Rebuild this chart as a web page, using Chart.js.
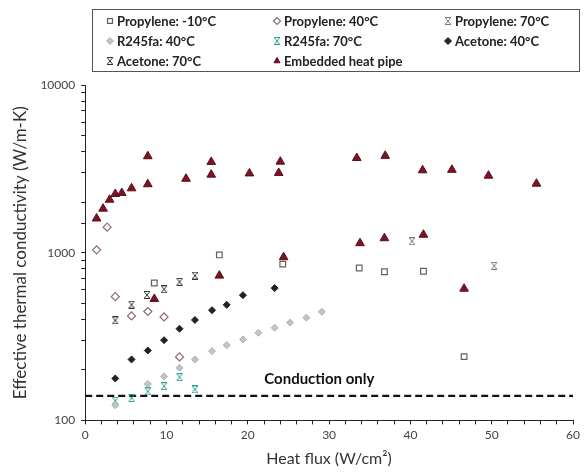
<!DOCTYPE html>
<html>
<head>
<meta charset="utf-8">
<script src="https://cdn.jsdelivr.net/npm/chart.js@4.4.1/dist/chart.umd.min.js"></script>
<style>
  body { margin: 0; background: #fff; }
  #wrap { width: 584px; height: 472px; }
</style>
</head>
<body>
<div id="wrap"><canvas id="kChart"></canvas></div>
<script>
// heat flux (W/cm2) and effective conductivity (W/m-K)
const propM10X = [8.5, 16.5, 24.3, 33.7, 36.8, 41.6, 46.6];
const propM10Y = [660, 970, 855, 810, 770, 775, 240];

const prop40X = [1.4, 2.7, 3.7, 5.7, 7.7, 9.7, 11.6];
const prop40Y = [1040, 1420, 547, 420, 446, 414, 239];

const prop70X = [40.2, 50.3];
const prop70Y = [1170, 835];

const r40X = [3.7, 7.7, 9.7, 11.6, 13.5, 15.6, 17.4, 19.4, 21.3, 23.3, 25.2, 27.2, 29.1];
const r40Y = [123, 165, 183, 206, 231, 259, 281, 304, 333, 357, 383, 410, 444];

const r70X = [3.7, 5.7, 7.7, 9.7, 11.6, 13.5];
const r70Y = [131, 136, 149, 160, 181, 153];

const ace40X = [3.7, 5.7, 7.7, 9.7, 11.6, 13.5, 15.6, 17.4, 19.4, 23.3];
const ace40Y = [178, 231, 261, 301, 352, 397, 454, 489, 558, 615];

const ace70X = [3.7, 5.7, 7.6, 9.7, 11.6, 13.5];
const ace70Y = [395, 490, 560, 605, 670, 730];

const pipeX = [1.4, 2.2, 3.0, 3.7, 4.5, 5.7, 7.7, 7.7, 8.5, 12.4, 15.5, 15.5, 16.5, 20.2, 23.8, 24.0, 24.4,
               33.4, 33.8, 36.9, 36.8, 41.5, 41.6, 45.1, 46.6, 49.6, 55.5];
const pipeY = [1600, 1830, 2070, 2240, 2270, 2420, 2560, 3760, 530, 2760, 2920, 3480, 730, 2970, 2990, 3490, 940,
               3670, 1140, 3780, 1220, 3100, 1280, 3120, 610, 2880, 2580];

const conductionX = [0, 60];
const conductionY = [140, 140];

const xTicks = [0, 10, 20, 30, 40, 50, 60];
const yTicks = [100, 1000, 10000];

function pts(xs, ys) {
    return xs.map((x, i) => ({ x: x, y: ys[i] }));
}

// Excel-like "x" marker with bars on top and bottom
function hourglass(color) {
    const c = document.createElement('canvas');
    c.width = 8; c.height = 8;
    const g = c.getContext('2d');
    g.strokeStyle = color;
    g.lineWidth = 1;
    g.beginPath();
    g.moveTo(1, 0.5); g.lineTo(7, 0.5);
    g.moveTo(1, 7.5); g.lineTo(7, 7.5);
    g.moveTo(1.5, 1); g.lineTo(6.5, 7);
    g.moveTo(6.5, 1); g.lineTo(1.5, 7);
    g.stroke();
    return c;
}

const FONT = 'Lato, "Open Sans", sans-serif';

const legendBox = {
    id: 'legendBox',
    afterDraw(chart) {
        const ctx = chart.ctx;
        const sets = chart.data.datasets.filter(d => !d.noLegend);
        const cols = [110, 277, 448];
        const rows = [21, 41, 61];
        ctx.save();
        ctx.strokeStyle = '#555';
        ctx.lineWidth = 1;
        ctx.strokeRect(92.5, 9.5, 487, 62);
        ctx.font = 'bold 13px ' + FONT;
        ctx.textBaseline = 'middle';
        sets.forEach((d, i) => {
            const x = cols[i % 3], y = rows[Math.floor(i / 3)];
            ctx.fillStyle = d.backgroundColor;
            ctx.strokeStyle = d.borderColor;
            ctx.lineWidth = d.borderWidth || 1;
            Chart.helpers.drawPoint(ctx, {
                pointStyle: d.pointStyle,
                radius: Math.min(d.pointRadius, 3.5),
                borderWidth: d.borderWidth || 1
            }, x, y);
            ctx.fillStyle = '#222';
            ctx.fillText(d.label, x + 7, y + 1);
        });
        ctx.restore();
    }
};

const conductionLabel = {
    id: 'conductionLabel',
    afterDatasetsDraw(chart) {
        const ctx = chart.ctx;
        const xs = chart.scales.x, ys = chart.scales.y;
        ctx.save();
        ctx.font = 'bold 15px ' + FONT;
        ctx.fillStyle = '#111';
        ctx.textAlign = 'center';
        ctx.textBaseline = 'middle';
        ctx.fillText('Conduction only', xs.getPixelForValue(28.8), ys.getPixelForValue(conductionY[0]) - 17);
        ctx.restore();
    }
};

new Chart(document.getElementById('kChart'), {
    type: 'scatter',
    data: {
        datasets: [
            {
                label: 'Propylene: -10°C',
                data: pts(propM10X, propM10Y),
                pointStyle: 'rect', pointRadius: 4,
                backgroundColor: '#fff', borderColor: '#6e5c5c', borderWidth: 1.2
            },
            {
                label: 'Propylene: 40°C',
                data: pts(prop40X, prop40Y),
                pointStyle: 'rectRot', pointRadius: 4,
                backgroundColor: '#fff', borderColor: '#8a6c6c', borderWidth: 1.2
            },
            {
                label: 'Propylene: 70°C',
                data: pts(prop70X, prop70Y),
                pointStyle: hourglass('#777'), pointRadius: 4,
                backgroundColor: '#777', borderColor: '#777', borderWidth: 1
            },
            {
                label: 'R245fa: 40°C',
                data: pts(r40X, r40Y),
                pointStyle: 'rectRot', pointRadius: 3.5,
                backgroundColor: '#c4c4c4', borderColor: '#b0b0b0', borderWidth: 1
            },
            {
                label: 'R245fa: 70°C',
                data: pts(r70X, r70Y),
                pointStyle: hourglass('#2f9e8e'), pointRadius: 4,
                backgroundColor: '#2f9e8e', borderColor: '#2f9e8e', borderWidth: 1
            },
            {
                label: 'Acetone: 40°C',
                data: pts(ace40X, ace40Y),
                pointStyle: 'rectRot', pointRadius: 3.5,
                backgroundColor: '#222', borderColor: '#222', borderWidth: 1
            },
            {
                label: 'Acetone: 70°C',
                data: pts(ace70X, ace70Y),
                pointStyle: hourglass('#333'), pointRadius: 4,
                backgroundColor: '#333', borderColor: '#333', borderWidth: 1
            },
            {
                label: 'Embedded heat pipe',
                data: pts(pipeX, pipeY),
                pointStyle: 'triangle', pointRadius: 5,
                backgroundColor: '#7a1424', borderColor: '#5c0d1a', borderWidth: 1
            },
            {
                label: 'Conduction only',
                noLegend: true,
                type: 'line',
                data: pts(conductionX, conductionY),
                borderColor: '#111', borderWidth: 2.2, borderDash: [7, 4],
                pointRadius: 0, fill: false
            }
        ]
    },
    options: {
        responsive: true,
        maintainAspectRatio: false,
        animation: false,
        layout: { padding: { top: 85, right: 10, left: 10, bottom: 4 } },
        plugins: {
            legend: { display: false },
            tooltip: { enabled: false }
        },
        scales: {
            x: {
                type: 'linear',
                min: 0, max: 60,
                border: { color: '#222', width: 1 },
                grid: { display: true, drawOnChartArea: false, drawTicks: true, tickLength: 4, color: '#222' },
                ticks: {
                    stepSize: 2,
                    autoSkip: false,
                    maxRotation: 0,
                    color: '#444',
                    font: { family: FONT, size: 12 },
                    padding: 4,
                    callback: v => xTicks.includes(v) ? String(v) : ''
                },
                title: {
                    display: true,
                    text: 'Heat flux (W/cm²)',
                    color: '#333',
                    font: { family: FONT, size: 16 },
                    padding: { top: 2, bottom: 0 }
                }
            },
            y: {
                type: 'logarithmic',
                min: 100, max: 10000,
                border: { color: '#222', width: 1 },
                grid: { display: true, drawOnChartArea: false, drawTicks: true, tickLength: 4, color: '#222' },
                ticks: {
                    autoSkip: false,
                    color: '#444',
                    font: { family: FONT, size: 12 },
                    padding: 6,
                    callback: v => yTicks.includes(v) ? String(v) : ''
                },
                title: {
                    display: true,
                    text: 'Effective thermal conductivity (W/m-K)',
                    color: '#333',
                    font: { family: FONT, size: 17 },
                    padding: { top: 0, bottom: 4 }
                }
            }
        }
    },
    plugins: [legendBox, conductionLabel]
});
</script>
</body>
</html>
